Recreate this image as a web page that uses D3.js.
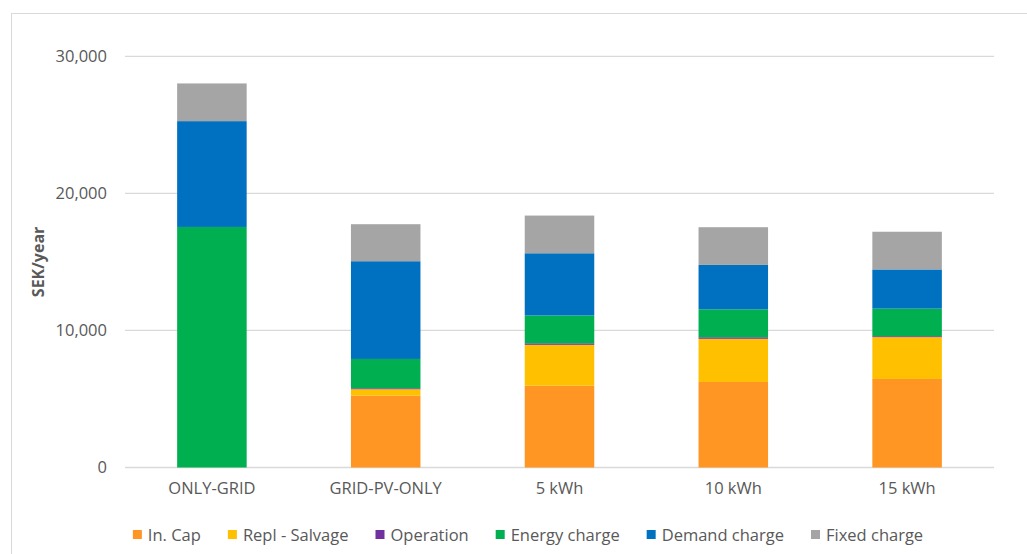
<!DOCTYPE html>
<html>
<head>
<meta charset="utf-8">
<script src="https://cdn.jsdelivr.net/npm/d3@7"></script>
<style>
  html, body { margin: 0; padding: 0; background: #fff; }
  svg { display: block; }
  text { font-family: "Open Sans", "Liberation Sans", sans-serif; fill: #595959; }
</style>
</head>
<body>
<svg id="chart" width="1027" height="554"></svg>
<script>
// Annual cost breakdown per configuration (SEK/year)
const categories = ["ONLY-GRID", "GRID-PV-ONLY", "5 kWh", "10 kWh", "15 kWh"];
const seriesNames = ["In. Cap", "Repl - Salvage", "Operation", "Energy charge", "Demand charge", "Fixed charge"];
const inCap        = [0, 5240, 5970, 6240, 6460];
const replSalvage  = [0, 470, 2980, 3150, 3050];
const operation    = [0, 70, 110, 110, 70];
const energyCharge = [17550, 2140, 2030, 2040, 2010];
const demandCharge = [7720, 7130, 4540, 3240, 2860];
const fixedCharge  = [2750, 2700, 2750, 2750, 2750];
const yTicks = [0, 10000, 20000, 30000];
const colors = ["#ff9624", "#ffc000", "#7030a0", "#00b050", "#0070c0", "#a5a5a5"];

const seriesValues = [inCap, replSalvage, operation, energyCharge, demandCharge, fixedCharge];
const rows = categories.map((c, i) => {
  const r = { category: c };
  seriesNames.forEach((s, k) => { r[s] = seriesValues[k][i]; });
  return r;
});

const svg = d3.select("#chart");
const plot = { left: 125, right: 994, top: 56.3, bottom: 467.5 };

// outer frame
svg.append("rect")
  .attr("x", 11.5).attr("y", 13.5)
  .attr("width", 1040).attr("height", 560)
  .attr("fill", "none").attr("stroke", "#d9d9d9").attr("stroke-width", 1);

const x = d3.scaleBand()
  .domain(categories)
  .range([plot.left, plot.right])
  .paddingInner(0.6)
  .paddingOuter(0.3);

const y = d3.scaleLinear()
  .domain([0, 30000])
  .range([plot.bottom, plot.top]);

// gridlines
svg.append("g").selectAll("line")
  .data(yTicks)
  .join("line")
  .attr("x1", plot.left).attr("x2", plot.right)
  .attr("y1", d => y(d)).attr("y2", d => y(d))
  .attr("stroke", "#d9d9d9").attr("stroke-width", 1.3);

// y axis labels
const yAxis = d3.axisLeft(y).tickValues(yTicks).tickFormat(d3.format(",")).tickSize(0).tickPadding(0);
const yg = svg.append("g").attr("transform", "translate(107,0)").call(yAxis);
yg.select(".domain").remove();
yg.selectAll("text").attr("font-size", 16.5).attr("fill", "#595959")
  .style("font-family", '"Open Sans", sans-serif');

// x axis labels
const xAxis = d3.axisBottom(x).tickSize(0).tickPadding(0);
const xg = svg.append("g").attr("transform", "translate(0,482)").call(xAxis);
xg.select(".domain").remove();
xg.selectAll("text").attr("font-size", 16.5).attr("fill", "#595959")
  .style("font-family", '"Open Sans", sans-serif');

// stacked bars
const stack = d3.stack().keys(seriesNames);
const layers = stack(rows);
svg.append("g").selectAll("g")
  .data(layers)
  .join("g")
  .attr("fill", (d, i) => colors[i])
  .selectAll("rect")
  .data(d => d)
  .join("rect")
  .attr("x", d => x(d.data.category))
  .attr("width", x.bandwidth())
  .attr("y", d => y(d[1]))
  .attr("height", d => y(d[0]) - y(d[1]));

// y axis title
svg.append("text")
  .attr("transform", `translate(44,${(plot.top + plot.bottom) / 2}) rotate(-90)`)
  .attr("text-anchor", "middle")
  .attr("font-size", 16)
  .attr("font-weight", "bold")
  .attr("fill", "#595959")
  .text("SEK/year");

// legend
const legend = svg.append("g");
const items = legend.selectAll("g")
  .data(seriesNames)
  .join("g");
items.append("rect")
  .attr("width", 9).attr("height", 9)
  .attr("y", 530)
  .attr("fill", (d, i) => colors[i]);
items.append("text")
  .attr("x", 15)
  .attr("y", 535)
  .attr("dy", "0.35em")
  .attr("font-size", 16.5)
  .text(d => d);
let cursor = 0;
const offsets = [];
items.each(function() {
  offsets.push(cursor);
  const w = d3.select(this).select("text").node().getComputedTextLength();
  cursor += 15 + w + 27;
});
const total = cursor - 27;
const start = 528 - total / 2;
items.attr("transform", (d, i) => `translate(${start + offsets[i]},0)`);
</script>
</body>
</html>
